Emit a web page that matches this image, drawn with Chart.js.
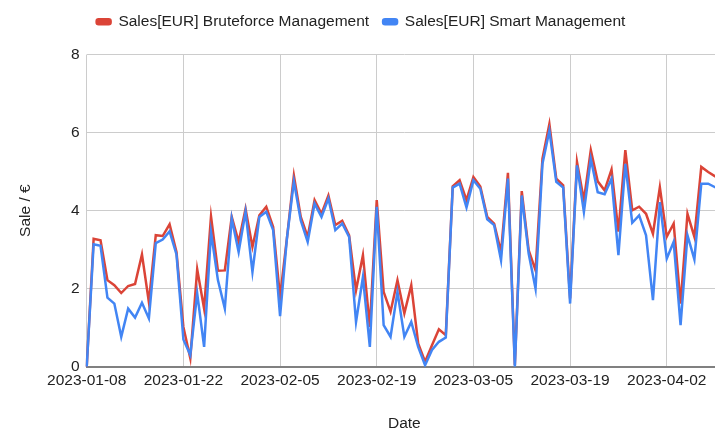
<!DOCTYPE html>
<html>
<head>
<meta charset="utf-8">
<script src="https://cdn.jsdelivr.net/npm/chart.js@4/dist/chart.umd.min.js"></script>
<style>
  html, body { margin: 0; padding: 0; background: #fff; overflow: hidden; }
  #wrap { width: 715px; height: 433px; overflow: hidden; }
</style>
</head>
<body>
<div id="wrap"><canvas id="salesChart" width="738" height="433"></canvas></div>
<script>
// daily values starting 2023-01-08
const startDate = '2023-01-08';
const tickLabels = ['2023-01-08', '2023-01-22', '2023-02-05', '2023-02-19', '2023-03-05', '2023-03-19', '2023-04-02'];
const yTicks = [0, 2, 4, 6, 8];

const bruteforceSales = [
    0, 3.28, 3.24, 2.22, 2.09, 1.89, 2.07, 2.12, 2.88, 1.66,
    3.37, 3.35, 3.65, 2.94, 1.02, 0.22, 2.5, 1.49, 3.85, 2.46,
    2.47, 3.84, 3.2, 4.05, 3.07, 3.88, 4.1, 3.58, 1.79, 3.3,
    4.9, 3.84, 3.33, 4.27, 3.92, 4.39, 3.63, 3.74, 3.37, 1.96,
    2.86, 1.02, 4.27, 1.92, 1.41, 2.22, 1.37, 2.09, 0.6, 0.13,
    0.55, 0.96, 0.81, 4.62, 4.78, 4.27, 4.86, 4.62, 3.84, 3.67,
    2.94, 4.97, 0.05, 4.5, 2.99, 2.47, 5.33, 6.22, 4.82, 4.65,
    1.75, 5.25, 4.27, 5.55, 4.75, 4.52, 5.05, 3.46, 5.55, 4.01,
    4.1, 3.92, 3.41, 4.6, 3.33, 3.67, 1.62, 3.92, 3.33, 5.12,
    4.99, 4.88, 4.8
];

const smartSales = [
    0, 3.14, 3.1, 1.77, 1.62, 0.77, 1.49, 1.26, 1.64, 1.24,
    3.17, 3.26, 3.47, 2.88, 0.7, 0.3, 1.88, 0.51, 3.45, 2.22,
    1.49, 3.8, 2.94, 3.97, 2.43, 3.84, 3.97, 3.5, 1.3, 3.3,
    4.75, 3.75, 3.2, 4.18, 3.84, 4.31, 3.5, 3.67, 3.33, 1.15,
    2.3, 0.51, 4.1, 1.07, 0.77, 1.92, 0.77, 1.15, 0.51, 0.04,
    0.43, 0.64, 0.75, 4.59, 4.69, 4.08, 4.78, 4.56, 3.78, 3.63,
    2.73, 4.82, 0, 4.39, 2.9, 2.0, 5.2, 6.05, 4.74, 4.59,
    1.62, 5.16, 3.97, 5.33, 4.47, 4.42, 4.82, 2.86, 5.2, 3.69,
    3.88, 3.37, 1.71, 4.22, 2.77, 3.2, 1.07, 3.37, 2.75, 4.69,
    4.69, 4.6, 4.5
];

function buildDates(start, count) {
    const out = [];
    const d = new Date(start + 'T00:00:00Z');
    for (let i = 0; i < count; i++) {
        out.push(d.toISOString().slice(0, 10));
        d.setUTCDate(d.getUTCDate() + 1);
    }
    return out;
}

const dates = buildDates(startDate, bruteforceSales.length);
const font = { family: '"Liberation Sans", Arial, sans-serif', size: 15.5 };

// extra room below the legend
const legendGap = {
    id: 'legendGap',
    beforeInit(chart) {
        const fit = chart.legend.fit;
        chart.legend.fit = function() {
            fit.call(this);
            this.height += 15;
        };
    }
};

const ctx = document.getElementById('salesChart').getContext('2d');
new Chart(ctx, {
    type: 'line',
    data: {
        labels: dates,
        datasets: [{
            label: 'Sales[EUR] Bruteforce Management',
            data: bruteforceSales,
            borderColor: '#db4437',
            backgroundColor: '#db4437',
            borderWidth: 2.5,
            pointRadius: 0,
            tension: 0,
            fill: false,
            order: 1
        }, {
            label: 'Sales[EUR] Smart Management',
            data: smartSales,
            borderColor: '#4285f4',
            backgroundColor: '#4285f4',
            borderWidth: 2.5,
            pointRadius: 0,
            tension: 0,
            fill: false,
            order: 0
        }]
    },
    plugins: [legendGap],
    options: {
        responsive: false,
        animation: false,
        layout: { padding: { left: 0, right: 16, top: 0, bottom: 0 } },
        plugins: {
            legend: {
                position: 'top',
                labels: {
                    font: font,
                    color: '#222',
                    boxWidth: 14,
                    boxHeight: 5,
                    useBorderRadius: true,
                    borderRadius: 2,
                    padding: 14,
                    sort: (a, b) => a.datasetIndex - b.datasetIndex
                }
            },
            tooltip: { enabled: false }
        },
        scales: {
            x: {
                type: 'category',
                ticks: {
                    autoSkip: false,
                    maxRotation: 0,
                    font: font,
                    color: '#222',
                    padding: 5,
                    callback: function(value) {
                        const lbl = dates[value];
                        return tickLabels.includes(lbl) ? lbl : '';
                    }
                },
                grid: {
                    drawTicks: false,
                    color: c => tickLabels.includes(dates[c.index]) ? '#cccccc' : 'rgba(0,0,0,0)'
                },
                border: { display: true, color: '#808080', width: 2 },
                title: {
                    display: true,
                    text: 'Date',
                    font: font,
                    color: '#222',
                    padding: { top: 19, bottom: 0 }
                }
            },
            y: {
                min: 0,
                max: 8,
                afterBuildTicks: axis => { axis.ticks = yTicks.map(v => ({ value: v })); },
                ticks: { font: font, color: '#222', padding: 7 },
                grid: { drawTicks: false, color: '#cccccc' },
                border: { display: false },
                title: {
                    display: true,
                    text: 'Sale / €',
                    font: font,
                    color: '#222',
                    padding: { top: 16, bottom: 29.5 }
                }
            }
        }
    }
});
</script>
</body>
</html>
